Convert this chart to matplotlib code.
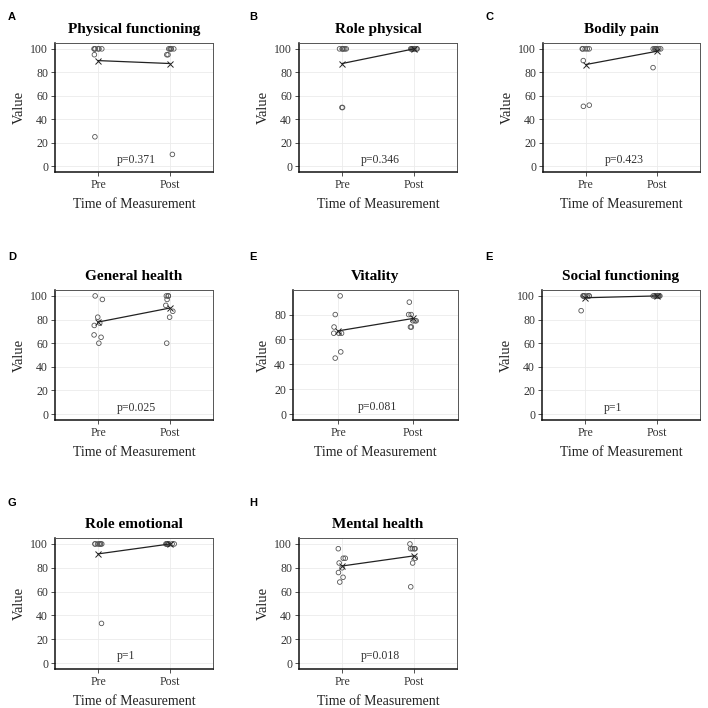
import numpy as np
import matplotlib
matplotlib.use("Agg")
import matplotlib.pyplot as plt

plt.rcParams['font.family'] = ['Liberation Serif', 'DejaVu Serif']

# ---------------- data ----------------
categories = ["Pre", "Post"]
titles = ["Physical functioning", "Role physical", "Bodily pain",
          "General health", "Vitality", "Social functioning",
          "Role emotional", "Mental health"]
panel_letters = ["A", "B", "C", "D", "E", "E", "G", "H"]
p_values = ["p=0.371", "p=0.346", "p=0.423", "p=0.025", "p=0.081",
            "p=1", "p=1", "p=0.018"]

pf_pre = [100, 100, 100, 100, 100, 100, 95, 25]
pf_post = [100, 100, 100, 100, 100, 95, 95, 10]
rp_pre = [100, 100, 100, 100, 100, 100, 50, 50]
rp_post = [100, 100, 100, 100, 100, 100, 100, 100]
bp_pre = [100, 100, 100, 100, 100, 90, 52, 51]
bp_post = [100, 100, 100, 100, 100, 100, 100, 84]
gh_pre = [100, 97, 82, 77, 75, 67, 65, 60]
gh_post = [100, 100, 100, 97, 92, 87, 82, 60]
vt_pre = [95, 80, 70, 65, 65, 65, 50, 45]
vt_post = [90, 80, 80, 75, 75, 75, 70, 70]
sf_pre = [100, 100, 100, 100, 100, 100, 100, 87.5]
sf_post = [100, 100, 100, 100, 100, 100, 100, 100]
re_pre = [100, 100, 100, 100, 100, 100, 100, 33.3]
re_post = [100, 100, 100, 100, 100, 100, 100, 100]
mh_pre = [96, 88, 88, 84, 80, 76, 72, 68]
mh_post = [100, 96, 96, 96, 96, 88, 84, 64]

pre_series = [pf_pre, rp_pre, bp_pre, gh_pre, vt_pre, sf_pre, re_pre, mh_pre]
post_series = [pf_post, rp_post, bp_post, gh_post, vt_post, sf_post, re_post, mh_post]

# ---------------- layout (pixel boxes of the axes) ----------------
W = H = 708
fig = plt.figure(figsize=(W / 100, H / 100), dpi=100)

boxes = [(55, 43, 213, 172), (299, 43, 457, 172), (543, 43, 700, 172),
         (55, 290, 213, 420), (293, 290, 458, 420), (542, 290, 700, 420),
         (55, 538, 213, 669), (299, 538, 457, 669)]
letter_pos = [(8, 17), (249, 17), (485, 17),
              (8, 257), (249, 257), (485, 257),
              (8, 503), (249, 503)]

rng = np.random.default_rng(11)

for i in range(8):
    x0, y0, x1, y1 = boxes[i]
    ax = fig.add_axes([x0 / W, 1 - y1 / H, (x1 - x0) / W, (y1 - y0) / H])
    pre = np.array(pre_series[i], dtype=float)
    post = np.array(post_series[i], dtype=float)

    # grid
    ax.set_axisbelow(True)
    ax.grid(True, color='#ebebeb', lw=0.6)

    # jittered points (like geom_jitter, vertical values untouched)
    jp = rng.uniform(-0.06, 0.06, len(pre))
    jq = rng.uniform(-0.06, 0.06, len(post))
    ax.scatter(1 + jp, pre, s=11, facecolors='none', edgecolors='#555555',
               linewidths=0.6, zorder=3)
    ax.scatter(2 + jq, post, s=11, facecolors='none', edgecolors='#555555',
               linewidths=0.6, zorder=3)

    # means
    means = [pre.mean(), post.mean()]
    ax.plot([1, 2], means, color='#222222', lw=0.9, marker='x', ms=4,
            mew=0.7, zorder=4)

    ax.text(1.26, 5.5, p_values[i], ha='left', va='center', fontsize=8.5,
            color='#333333')

    ax.set_xlim(0.4, 2.6)
    ymax = max(pre.max(), post.max())
    pad = 0.05 * ymax
    ax.set_ylim(-pad, ymax + pad)
    ax.set_xticks([1, 2])
    ax.set_xticklabels(categories)
    ax.set_yticks([t for t in [0, 20, 40, 60, 80, 100] if t <= ymax + pad])

    ax.tick_params(direction='out', length=3, width=0.6, colors='#333333',
                   labelsize=8.5, pad=2)
    for s in ['top', 'right']:
        ax.spines[s].set_color('#555555')
        ax.spines[s].set_linewidth(0.7)
    for s in ['left', 'bottom']:
        ax.spines[s].set_color('#111111')
        ax.spines[s].set_linewidth(1.1)

    ax.set_title(titles[i], fontsize=11, fontweight='bold', pad=7)
    ax.set_xlabel("Time of Measurement", fontsize=10, labelpad=5,
                  color='#222222')
    ax.set_ylabel("Value", fontsize=10.5, labelpad=3, color='#222222')

    lx, ly = letter_pos[i]
    fig.text(lx / W, 1 - ly / H, panel_letters[i], fontsize=8,
             fontweight='bold', family='Liberation Sans', ha='left',
             va='center')

fig.savefig("out.png", dpi=100)
